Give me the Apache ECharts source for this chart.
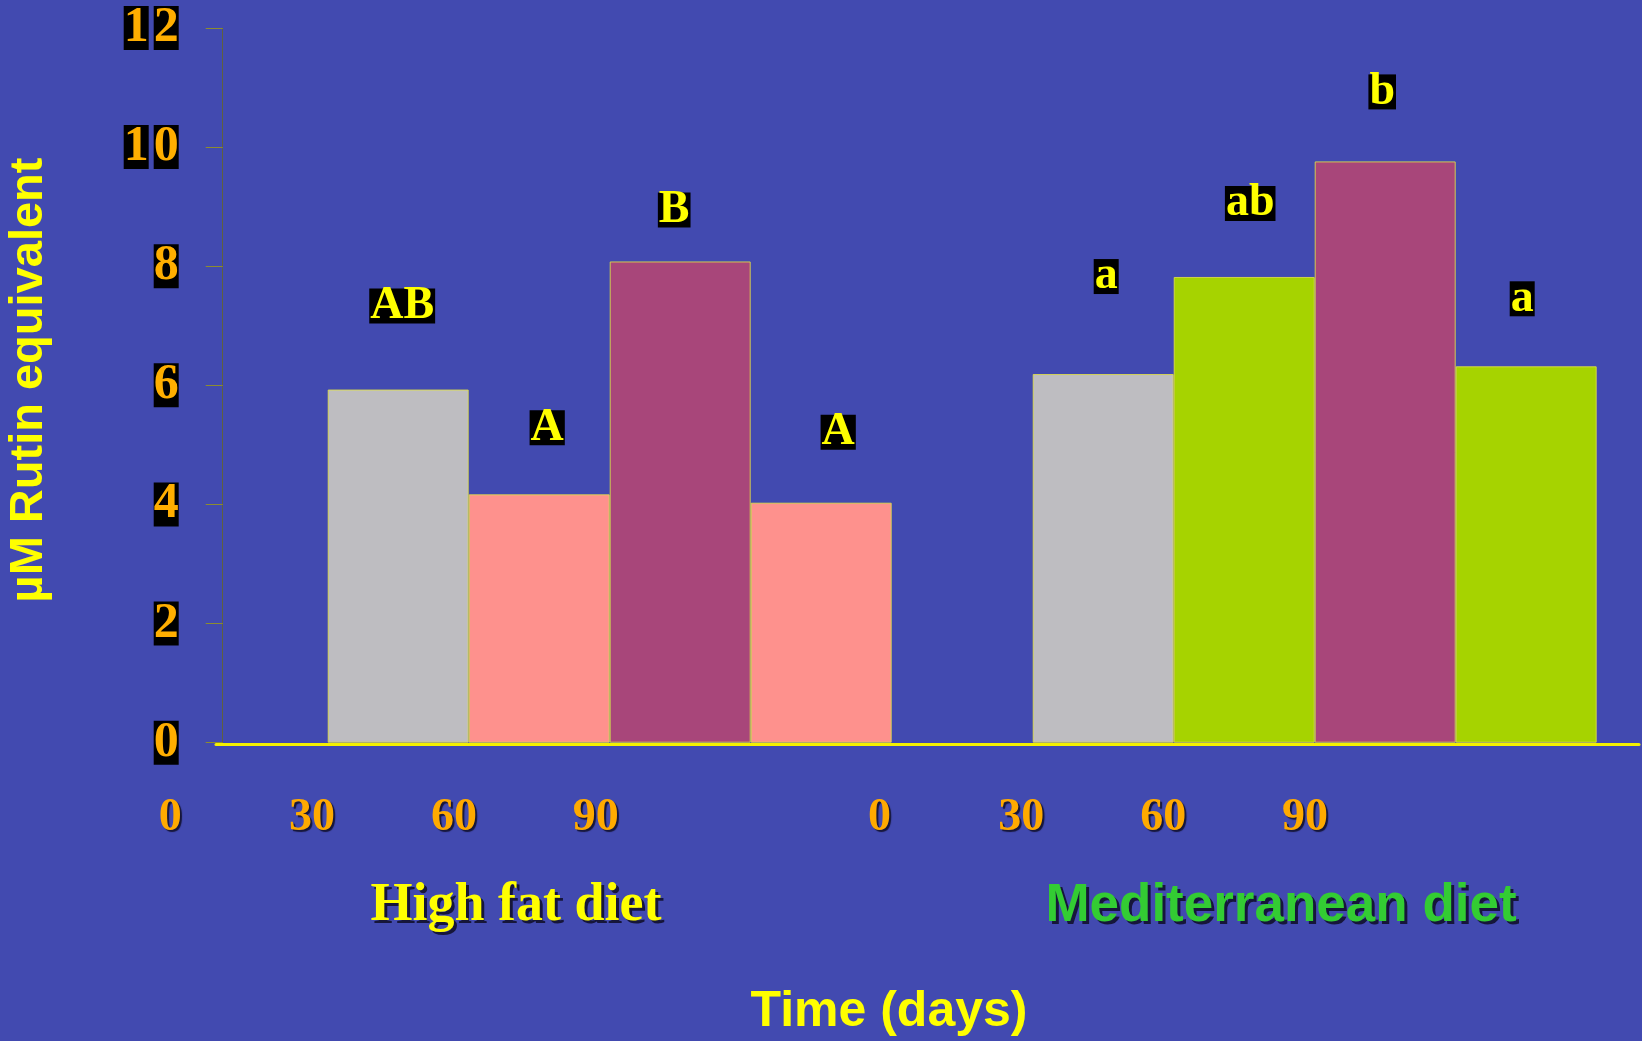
<!DOCTYPE html>
<html>
<head>
<meta charset="utf-8">
<script src="https://cdn.jsdelivr.net/npm/echarts@6/dist/echarts.min.js"></script>
<style>
  html, body { margin: 0; padding: 0; background: #424ab0; }
  #chart { width: 1642px; height: 1041px; }
</style>
</head>
<body>
<div id="chart"></div>
<script>
// ---- data ----
const timePoints = ['0', '30', '60', '90'];
const highFatValues = [5.93, 4.17, 8.08, 4.03];
const mediterraneanValues = [6.19, 7.82, 9.76, 6.32];
const highFatLetters = ['AB', 'A', 'B', 'A'];
const mediterraneanLetters = ['a', 'ab', 'b', 'a'];
const yMin = 0, yMax = 12, yStep = 2;

// ---- styling ----
const highFatColors = ['#bebdc1', '#fe918d', '#a8467a', '#fe918d'];
const mediterraneanColors = ['#bebdc1', '#a6d300', '#a8467a', '#a6d300'];
const letterGap = [66, 49, 34, 53, 0, 80, 56, 52, 50];
const letterShift = [4, 8, -6, 17, 0, 3, 6, -3, -4];

const SERIF = '"Liberation Serif", "Times New Roman", serif';
const SANS = '"Liberation Sans", Arial, sans-serif';
const SHADOW = '#16163a';

// nine slots: four high-fat bars, an empty slot, four mediterranean bars
const slotNames = [
  ...timePoints.map(t => 'High fat ' + t),
  '',
  ...timePoints.map(t => 'Mediterranean ' + t)
];
const slotValues = [...highFatValues, '-', ...mediterraneanValues];
const slotLetters = [...highFatLetters, '', ...mediterraneanLetters];
const slotColors = [...highFatColors, 'transparent', ...mediterraneanColors];
const dayLabels = [...timePoints, '', ...timePoints];

const barData = slotValues.map((v, i) => ({
  value: v,
  itemStyle: { color: slotColors[i] },
  label: { distance: letterGap[i], offset: [letterShift[i], 0] }
}));

const chart = echarts.init(document.getElementById('chart'), null, { renderer: 'canvas' });

function shadowText(x, y, text, font, fill, withShadow) {
  const base = {
    type: 'text', x, y,
    style: { text, font, fill, align: 'center', verticalAlign: 'middle' }
  };
  if (!withShadow) return base;
  // dark drop shadow drawn as a text copy underneath
  return {
    type: 'group',
    children: [
      { type: 'text', x: x + 3, y: y + 3, style: { text, font, fill: SHADOW, align: 'center', verticalAlign: 'middle' } },
      base
    ]
  };
}

chart.setOption({
  backgroundColor: '#424ab0',
  animation: false,
  grid: [
    // bars
    { left: 327.7, right: 45.3, top: 28, bottom: 298.3, outerBoundsMode: 'none', containLabel: false },
    // yellow baseline
    { left: 216, right: 3, top: 28, bottom: 296.5, outerBoundsMode: 'none', containLabel: false },
    // day tick labels
    { left: 99.3, right: 266.1, top: 28, bottom: 223, outerBoundsMode: 'none', containLabel: false }
  ],
  xAxis: [
    {
      gridIndex: 0, type: 'category', data: slotNames,
      axisLine: { show: false }, axisTick: { show: false }, axisLabel: { show: false },
      splitLine: { show: false }
    },
    {
      gridIndex: 1, type: 'category', data: ['', ''],
      axisLine: { show: true, lineStyle: { color: '#f4f000', width: 3 } },
      axisTick: { show: false }, axisLabel: { show: false }, splitLine: { show: false }
    },
    {
      gridIndex: 2, type: 'category', data: dayLabels,
      axisLine: { show: false }, axisTick: { show: false }, splitLine: { show: false },
      axisLabel: {
        show: true, interval: 0, margin: 0, verticalAlign: 'middle',
        color: '#ffaa00', fontFamily: SERIF, fontWeight: 'bold', fontSize: 46,
        textShadowColor: SHADOW, textShadowOffsetX: 2, textShadowOffsetY: 2, textShadowBlur: 1
      }
    }
  ],
  yAxis: [
    {
      gridIndex: 0, type: 'value', min: yMin, max: yMax, interval: yStep,
      offset: 105,
      axisLine: { show: true, lineStyle: { color: '#5e6040', width: 1 } },
      axisTick: { show: true, length: 17, lineStyle: { color: '#8c8c30', width: 1 } },
      splitLine: { show: false },
      axisLabel: {
        margin: 44,
        formatter: v => String(v).split('').map(c => '{d|' + c + '}').join('{s|}'),
        rich: {
          d: {
            fontFamily: SERIF, fontWeight: 'bold', fontSize: 50, color: '#ffae00',
            backgroundColor: '#000000', width: 25, height: 44, lineHeight: 44, align: 'center'
          },
          s: { width: 5, height: 44 }
        }
      }
    },
    { gridIndex: 1, type: 'value', min: 0, max: 1, show: false },
    { gridIndex: 2, type: 'value', min: 0, max: 1, show: false }
  ],
  series: [
    {
      type: 'bar',
      xAxisIndex: 0, yAxisIndex: 0,
      data: barData,
      barWidth: '100%',
      barCategoryGap: '0%',
      itemStyle: { borderColor: 'rgba(225,225,70,0.85)', borderWidth: 1 },
      label: {
        show: true,
        position: 'top',
        formatter: p => slotLetters[p.dataIndex],
        color: '#ffff00',
        fontFamily: SERIF, fontWeight: 'bold', fontSize: 46,
        lineHeight: 35,
        backgroundColor: '#000000',
        padding: [0, 1]
      }
    }
  ],
  graphic: [
    {
      type: 'text', x: 29, y: 380, rotation: Math.PI / 2,
      style: {
        text: 'µM Rutin equivalent', fill: '#ffff00',
        font: 'bold 47px ' + SANS, align: 'center', verticalAlign: 'middle'
      }
    },
    shadowText(516, 906, 'High fat diet', 'bold 54px ' + SERIF, '#ffff00', true),
    shadowText(1281, 906, 'Mediterranean diet', 'bold 53px ' + SANS, '#33cc33', true),
    shadowText(889, 1012, 'Time (days)', 'bold 50px ' + SANS, '#ffff00', false)
  ]
});
</script>
</body>
</html>
